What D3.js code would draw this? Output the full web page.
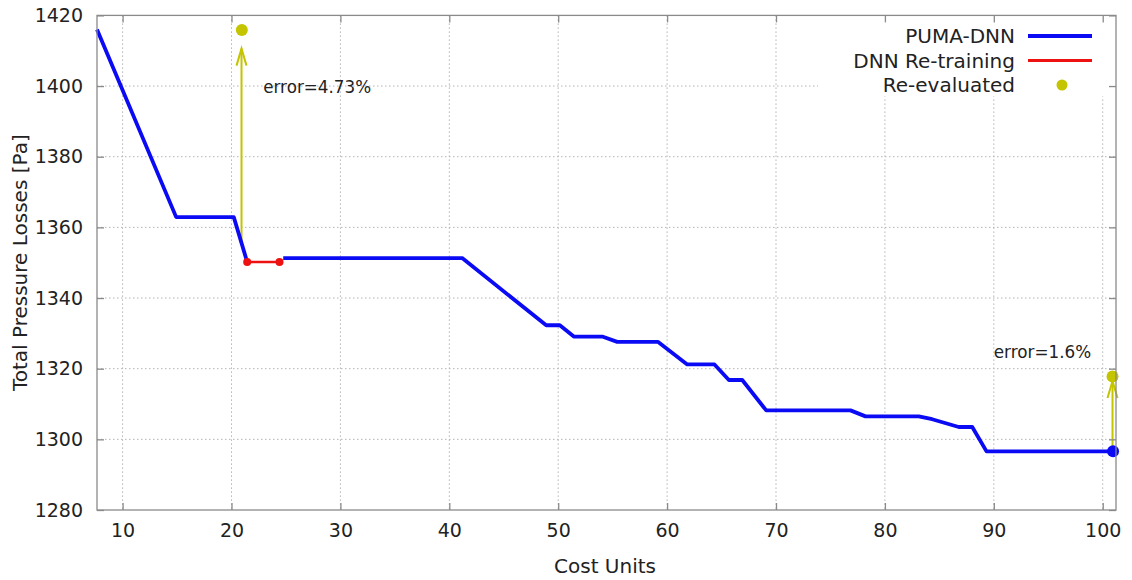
<!DOCTYPE html>
<html>
<head>
<meta charset="utf-8">
<script src="https://cdn.jsdelivr.net/npm/d3@7"></script>
<style>
  html, body { margin: 0; padding: 0; background: #fff; }
  svg text { font-family: "DejaVu Sans", sans-serif; fill: #222; }
</style>
</head>
<body>
<svg id="chart" width="1132" height="580"></svg>
<script>
// Optimisation history: total pressure losses vs. cost units
const pumaBefore = [
  [7.65, 1416.0], [14.92, 1362.9], [20.21, 1362.9], [21.44, 1350.2]
];
const retraining = [
  [21.44, 1350.2], [24.41, 1350.2]
];
const pumaAfter = [
  [24.75, 1351.3], [41.18, 1351.3], [48.9, 1332.3], [50.15, 1332.3],
  [51.43, 1329.1], [54.04, 1329.1], [55.42, 1327.6], [59.15, 1327.6],
  [61.85, 1321.2], [64.35, 1321.2], [65.67, 1316.8], [66.9, 1316.8],
  [69.1, 1308.2], [76.84, 1308.2], [78.22, 1306.5], [83.11, 1306.5],
  [84.34, 1305.7], [86.78, 1303.5], [88.02, 1303.5], [89.33, 1296.6],
  [100.95, 1296.6]
];
const finalPoint = [100.95, 1296.6];
const reEvaluated = [[20.95, 1415.9], [100.9, 1317.8]];
// arrows: [x, yFrom, yTo]
const errorArrows = [[20.92, 1355.0, 1410.6], [100.9, 1296.6, 1316.5]];
const errorLabels = [
  { x: 22.91, y: 1399.8, text: "error=4.73%" },
  { x: 90.0, y: 1324.6, text: "error=1.6%" }
];
const xTicks = [10, 20, 30, 40, 50, 60, 70, 80, 90, 100];
const yTicks = [1280, 1300, 1320, 1340, 1360, 1380, 1400, 1420];
const legendItems = [
  { label: "PUMA-DNN", kind: "line", color: "#0a0af5", width: 3.8 },
  { label: "DNN Re-training", kind: "line", color: "#ee1111", width: 3 },
  { label: "Re-evaluated", kind: "dot", color: "#c4c400" }
];

const BLUE = "#0a0af5", RED = "#ee1111", OLIVE = "#c4c400";
const pL = 97, pR = 1116, pT = 15.4, pB = 510;

const svg = d3.select("#chart");
const x = d3.scaleLinear().domain([7.65, 101.22]).range([pL, pR]);
const y = d3.scaleLinear().domain([1280, 1420]).range([pB, pT]);

// grid
const grid = svg.append("g").attr("stroke", "#b4b4b4").attr("stroke-width", 1)
  .attr("stroke-dasharray", "1.5,2.5");
grid.selectAll(".gx").data(xTicks).join("line")
  .attr("x1", d => x(d)).attr("x2", d => x(d)).attr("y1", pT).attr("y2", pB);
grid.selectAll(".gy").data(yTicks.filter(d => d > 1280 && d < 1420)).join("line")
  .attr("x1", pL).attr("x2", pR).attr("y1", d => y(d)).attr("y2", d => y(d));

const line = d3.line().x(d => x(d[0])).y(d => y(d[1]));
const plot = svg.append("g");

// arrows from the predicted to the re-evaluated value
const arrowG = plot.append("g").attr("stroke", OLIVE).attr("stroke-width", 2).attr("fill", "none");
errorArrows.forEach(([ax, y0, y1]) => {
  const px = x(ax), py0 = y(y0), py1 = y(y1);
  arrowG.append("line").attr("x1", px).attr("x2", px).attr("y1", py0).attr("y2", py1);
  arrowG.append("path").attr("d", `M${px - 5},${py1 + 17} L${px},${py1} L${px + 5},${py1 + 17}`);
});

plot.append("path").datum(pumaBefore).attr("d", line)
  .attr("fill", "none").attr("stroke", BLUE).attr("stroke-width", 3.8).attr("stroke-linejoin", "round");
plot.append("path").datum(pumaAfter).attr("d", line)
  .attr("fill", "none").attr("stroke", BLUE).attr("stroke-width", 3.8).attr("stroke-linejoin", "round");
plot.append("path").datum(retraining).attr("d", line)
  .attr("fill", "none").attr("stroke", RED).attr("stroke-width", 2.4);
plot.selectAll(".rdot").data(retraining).join("circle")
  .attr("cx", d => x(d[0])).attr("cy", d => y(d[1])).attr("r", 4).attr("fill", RED);
plot.append("circle").attr("cx", x(finalPoint[0])).attr("cy", y(finalPoint[1]))
  .attr("r", 6).attr("fill", BLUE);
plot.selectAll(".ydot").data(reEvaluated).join("circle")
  .attr("cx", d => x(d[0])).attr("cy", d => y(d[1])).attr("r", 6).attr("fill", OLIVE);

plot.selectAll(".elab").data(errorLabels).join("text")
  .attr("x", d => x(d.x)).attr("y", d => y(d.y)).attr("dy", "0.35em")
  .attr("font-size", 16.8).text(d => d.text);

// legend (opaque key box)
const lg = svg.append("g");
lg.append("rect").attr("x", 818).attr("y", pT).attr("width", pR - 818).attr("height", 81)
  .attr("fill", "#fff");
legendItems.forEach((it, i) => {
  const cy = 36 + i * 24.5;
  lg.append("text").attr("x", 1015).attr("y", cy).attr("dy", "0.35em")
    .attr("text-anchor", "end").attr("font-size", 20).text(it.label);
  if (it.kind === "line") {
    lg.append("line").attr("x1", 1028).attr("x2", 1092).attr("y1", cy).attr("y2", cy)
      .attr("stroke", it.color).attr("stroke-width", it.width);
  } else {
    lg.append("circle").attr("cx", 1062).attr("cy", cy).attr("r", 5.5).attr("fill", it.color);
  }
});

// frame with mirrored inward ticks
const frame = svg.append("g").attr("stroke", "#8a8a8a").attr("stroke-width", 1.3);
frame.append("rect").attr("x", pL).attr("y", pT).attr("width", pR - pL)
  .attr("height", pB - pT).attr("fill", "none");
const xAxis = d3.axisBottom(x).tickValues(xTicks).tickSize(-7).tickPadding(14).tickFormat(d3.format("d"));
const yAxis = d3.axisLeft(y).tickValues(yTicks).tickSize(-7).tickPadding(14).tickFormat(d3.format("d"));
const gx = svg.append("g").attr("transform", `translate(0,${pB})`).call(xAxis);
const gy = svg.append("g").attr("transform", `translate(${pL},0)`).call(yAxis);
const gx2 = svg.append("g").attr("transform", `translate(0,${pT})`)
  .call(d3.axisTop(x).tickValues(xTicks).tickSize(-7).tickFormat(""));
const gy2 = svg.append("g").attr("transform", `translate(${pR},0)`)
  .call(d3.axisRight(y).tickValues(yTicks).tickSize(-7).tickFormat(""));
[gx, gy, gx2, gy2].forEach(g => {
  g.select(".domain").remove();
  g.selectAll(".tick line").attr("stroke", "#8a8a8a").attr("stroke-width", 1.3);
  g.selectAll(".tick text").attr("font-size", 19).attr("fill", "#222")
    .attr("font-family", "DejaVu Sans, sans-serif");
});

// axis titles
svg.append("text").attr("x", 605).attr("y", 566).attr("dy", "0.35em")
  .attr("text-anchor", "middle").attr("font-size", 20).text("Cost Units");
svg.append("text").attr("transform", `translate(20,${(pT + pB) / 2}) rotate(-90)`)
  .attr("dy", "0.35em").attr("text-anchor", "middle").attr("font-size", 20)
  .text("Total Pressure Losses [Pa]");
</script>
</body>
</html>
